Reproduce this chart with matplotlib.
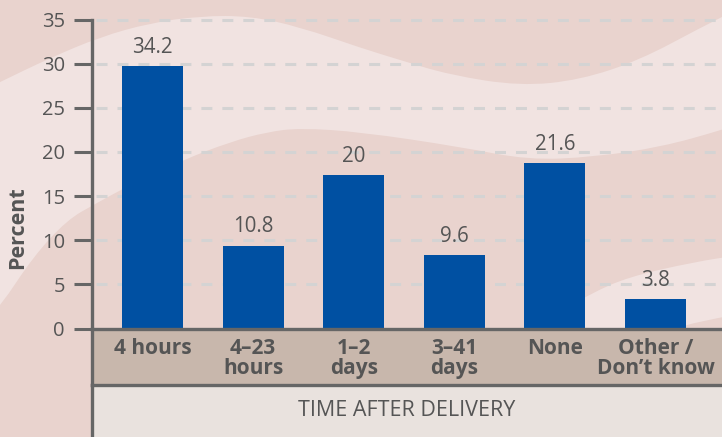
import matplotlib
matplotlib.use('Agg')
import matplotlib.pyplot as plt
from matplotlib.path import Path
from matplotlib.patches import PathPatch, Rectangle
from matplotlib.transforms import blended_transform_factory

# ---- data ----
categories = ['4 hours', '4\u201323\nhours', '1\u20132\ndays', '3\u201341\ndays', 'None', 'Other /\nDon\u2019t know']
values = [34.2, 10.8, 20, 9.6, 21.6, 3.8]
tick_values = [0, 5, 10, 15, 20, 25, 30, 35]
y_label = 'Percent'
x_title = 'TIME AFTER DELIVERY'

plt.rcParams['font.family'] = ['Open Sans', 'DejaVu Sans']
plt.rcParams['lines.scale_dashes'] = False

W, H = 722, 437
TEXT = '#555555'
LINE = '#666666'
DARK_BG = '#e9d3ce'
LIGHT_BG = '#f1e3e1'
BAND = '#c8b7ac'
LOWER = '#e9e2de'
BAR = '#0050a2'

fig = plt.figure(figsize=(W / 100, H / 100), dpi=100)


def fx(x):
    return x / W


def fy(y):
    return 1 - y / H


# ---- decorative background waves ----
bg = fig.add_axes([0, 0, 1, 1], zorder=0)
bg.set_xlim(0, W)
bg.set_ylim(H, 0)
bg.axis('off')
bg.add_patch(Rectangle((0, 0), W, H, color=DARK_BG, lw=0))


def smooth(pts, first_code):
    verts = [pts[0]]
    codes = [first_code]
    for i in range(1, len(pts) - 1):
        mid = ((pts[i][0] + pts[i + 1][0]) / 2, (pts[i][1] + pts[i + 1][1]) / 2)
        verts += [pts[i], mid]
        codes += [Path.CURVE3, Path.CURVE3]
    verts.append(pts[-1])
    codes.append(Path.LINETO)
    return verts, codes


def band_patch(upper, lower, color):
    v1, c1 = smooth(upper, Path.MOVETO)
    v2, c2 = smooth(lower[::-1], Path.LINETO)
    verts = v1 + v2 + [upper[0]]
    codes = c1 + c2 + [Path.CLOSEPOLY]
    return PathPatch(Path(verts, codes), facecolor=color, lw=0)


upper1 = [(-20, 92), (0, 82), (50, 58), (100, 37), (150, 23), (200, 16), (250, 16),
          (300, 27), (361, 48), (400, 60), (450, 75), (520, 86), (580, 80),
          (640, 60), (700, 28), (740, 8)]
lower1 = [(-20, 325), (0, 307), (33, 257), (67, 220), (95, 204), (130, 185), (183, 160),
          (230, 142), (267, 132), (300, 128), (361, 132), (461, 147), (528, 160),
          (594, 157), (661, 147), (722, 130), (740, 124)]
bg.add_patch(band_patch(upper1, lower1, LIGHT_BG))

upper2 = [(530, 345), (560, 312), (590, 294), (628, 277), (694, 262), (740, 255)]
lower2 = [(530, 345), (600, 345), (660, 334), (694, 322), (740, 314)]
bg.add_patch(band_patch(upper2, lower2, LIGHT_BG))

# ---- main axis (ticks + grid) ----
ax = fig.add_axes([fx(92), fy(328.5), fx(630), 328.5 / H], zorder=2)
ax.set_facecolor('none')
ax.set_xlim(-0.601, 5.661)
ax.set_ylim(0, 37.21)
ax.set_xticks([])
ax.set_yticks(tick_values)
ax.set_yticklabels([str(t) for t in tick_values])
ax.tick_params(axis='y', length=13, width=2.2, color=LINE, pad=6.5,
               labelsize=14.5, labelcolor=TEXT)
for s in ['top', 'right', 'bottom']:
    ax.spines[s].set_visible(False)
ax.spines['left'].set_bounds(0, 35)
ax.spines['left'].set_linewidth(2.4)
ax.spines['left'].set_color(LINE)
ax.grid(axis='y', color='#d4d3d3', linewidth=2.2, linestyle=(12.2, (7.9, 7.2)))
ax.set_axisbelow(True)

# ---- bars (own value scale) ----
axb = ax.twinx()
axb.set_ylim(0, 42.77)
axb.axis('off')
xs = list(range(len(values)))
axb.bar(xs, values, width=0.606, color=BAR, zorder=3)
for x, v in zip(xs, values):
    axb.annotate(f'{v:g}', (x, v), xytext=(0, 9.4), textcoords='offset points',
                 ha='center', va='baseline', fontsize=14.8, color=TEXT)

# ---- category band ----
band = fig.add_axes([fx(92), fy(385), fx(630), (385 - 329) / H], zorder=3, sharex=ax)
band.set_facecolor(BAND)
band.set_yticks([])
band.tick_params(axis='x', length=0, labelbottom=False)
band.set_ylim(0, 1)
for s in ['top', 'bottom', 'left']:
    band.spines[s].set_linewidth(2.4)
    band.spines[s].set_color(LINE)
band.spines['right'].set_visible(False)
tr = blended_transform_factory(band.transData, band.transAxes)
for x, c in zip(xs, categories):
    band.text(x, 0.845, c, transform=tr, ha='center', va='top', fontsize=15,
              fontweight='bold', color=TEXT, linespacing=0.98)

# ---- lower title band ----
low = fig.add_axes([fx(92), 0, fx(630), (437 - 385) / H], zorder=2.5)
low.set_facecolor(LOWER)
low.set_xticks([])
low.set_yticks([])
for s in ['top', 'right', 'bottom']:
    low.spines[s].set_visible(False)
low.spines['left'].set_linewidth(2.4)
low.spines['left'].set_color(LINE)
low.text(0.5, 0.5, x_title, transform=low.transAxes, ha='center', va='center',
         fontsize=15.5, color=TEXT)

fig.text(fx(18), fy(228), y_label, rotation=90, ha='center', va='center',
         fontsize=15.5, fontweight='bold', color=TEXT)

fig.savefig('out.png', dpi=100)
